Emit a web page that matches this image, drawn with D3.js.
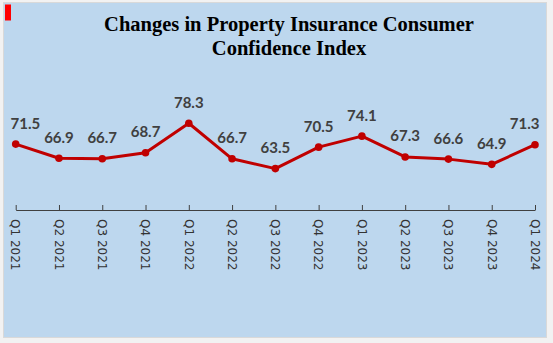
<!DOCTYPE html>
<html>
<head>
<meta charset="utf-8">
<script src="https://cdn.jsdelivr.net/npm/d3@7"></script>
<style>
  html, body { margin: 0; padding: 0; background: #ffffff; }
  svg { display: block; }
</style>
</head>
<body>
<svg id="chart" width="553" height="343"></svg>
<script>
const categories = ["Q1 2021","Q2 2021","Q3 2021","Q4 2021","Q1 2022","Q2 2022","Q3 2022","Q4 2022","Q1 2023","Q2 2023","Q3 2023","Q4 2023","Q1 2024"];
const values = [71.5, 66.9, 66.7, 68.7, 78.3, 66.7, 63.5, 70.5, 74.1, 67.3, 66.6, 64.9, 71.3];
const titleLines = ["Changes in Property Insurance Consumer", "Confidence Index"];
const yDomain = [50, 90];

const svg = d3.select("#chart");

// outer frame + panel
svg.append("rect").attr("x", 0).attr("y", 0).attr("width", 553).attr("height", 343).attr("fill", "#f2f2f2");
svg.append("rect").attr("x", 3.5).attr("y", 2.5).attr("width", 543).attr("height", 335)
  .attr("fill", "#bdd7ee").attr("stroke", "#d9d9d9").attr("stroke-width", 1);
svg.append("rect").attr("x", 5).attr("y", 4.5).attr("width", 6).attr("height", 16).attr("fill", "#ff0000");

// title
svg.append("text")
  .attr("x", 289).attr("y", 31)
  .attr("text-anchor", "middle")
  .style("font-family", "'Liberation Serif', 'Times New Roman', serif")
  .style("font-weight", "bold").style("font-size", "20.5px").attr("fill", "#000")
  .selectAll("tspan").data(titleLines).join("tspan")
  .attr("x", 289).attr("dy", (d, i) => i === 0 ? 0 : 24).text(d => d);

const x = d3.scalePoint().domain(categories).range([15.7, 535]);
const y = d3.scaleLinear().domain(yDomain).range([210, 87.4]);

// x axis
const axisG = svg.append("g").attr("transform", "translate(0,210)")
  .call(d3.axisTop(x).tickSize(5).tickSizeOuter(0).tickFormat(""));
axisG.select(".domain").attr("stroke", "#404040").attr("stroke-width", 1);
axisG.selectAll(".tick line").attr("stroke", "#404040");

// rotated tick labels
svg.append("g").selectAll("text").data(categories).join("text")
  .attr("transform", d => `translate(${x(d)},219) rotate(90)`)
  .attr("dy", "0.35em")
  .attr("text-anchor", "start")
  .style("font-family", "'DejaVu Sans', Verdana, sans-serif")
  .style("font-size", "12px").attr("fill", "#333333")
  .text(d => d);

// line
const data = categories.map((c, i) => ({c, v: values[i]}));
svg.append("path").datum(data)
  .attr("fill", "none").attr("stroke", "#c00000").attr("stroke-width", 3)
  .attr("stroke-linejoin", "round")
  .attr("d", d3.line().x(d => x(d.c)).y(d => y(d.v)));

svg.append("g").selectAll("circle").data(data).join("circle")
  .attr("cx", d => x(d.c)).attr("cy", d => y(d.v)).attr("r", 3.8)
  .attr("fill", "#c00000");

// data labels
const labels = svg.append("g").selectAll("text").data(data).join("text")
  .attr("y", d => y(d.v) - 15.5)
  .attr("text-anchor", "middle")
  .style("font-family", "Lato, 'Open Sans', sans-serif")
  .style("font-weight", "bold").style("font-size", "15px").attr("fill", "#404040")
  .text(d => d.v.toFixed(1));
labels.attr("x", function(d) {
  const w = this.getComputedTextLength();
  return Math.max(10.5 + w / 2, Math.min(539.5 - w / 2, x(d.c)));
});
</script>
</body>
</html>
